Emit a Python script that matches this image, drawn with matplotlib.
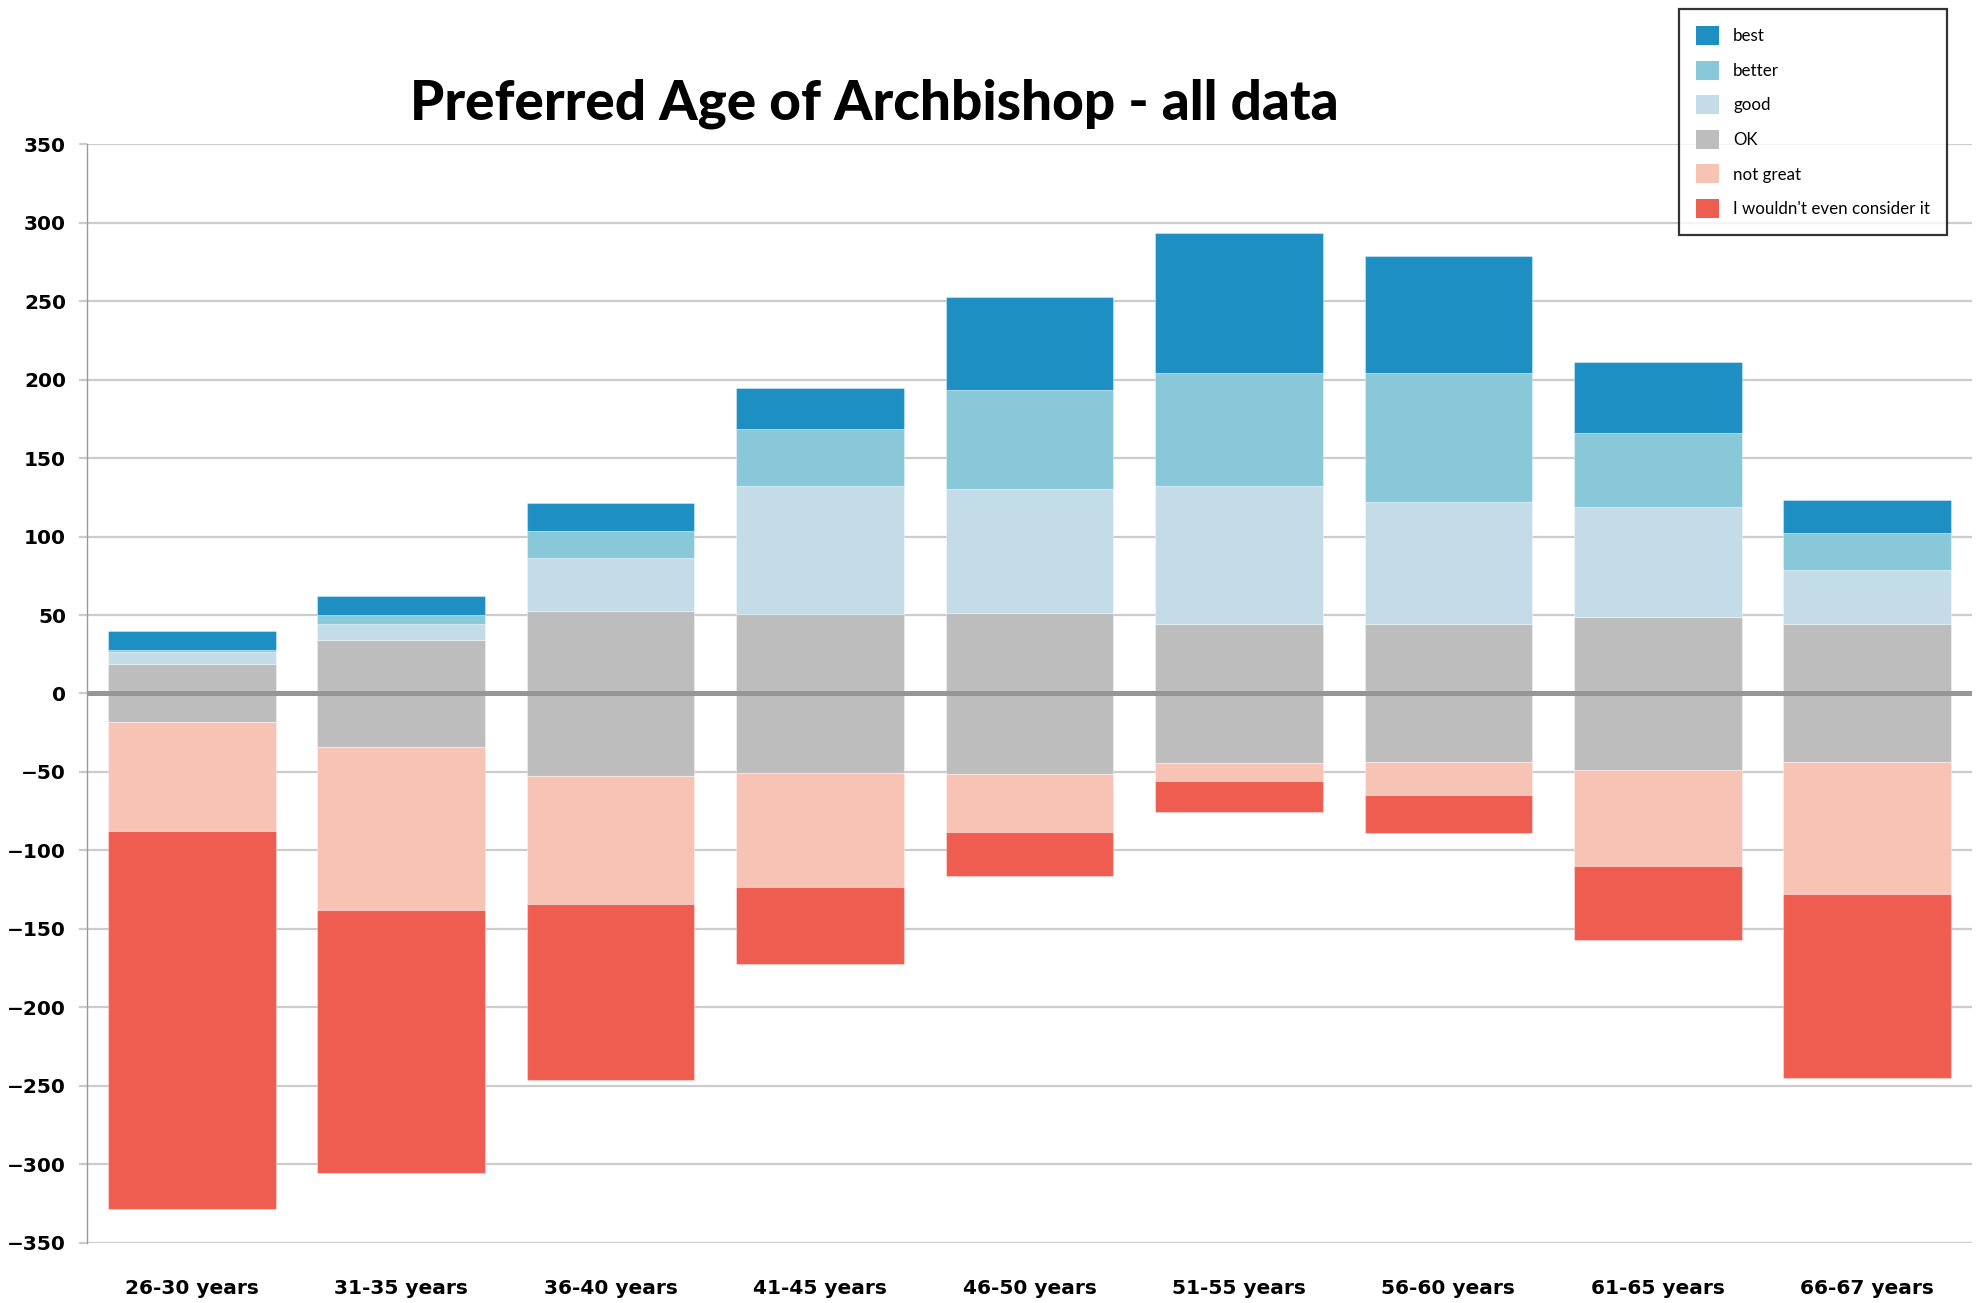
import numpy as np
import matplotlib.pyplot as plt
from matplotlib.patches import Patch

ages = ["26-30 years", "31-35 years", "36-40 years", "41-45 years", "46-50 years",
        "51-55 years", "56-60 years", "61-65 years", "66-67 years"]

# answer counts per age band
best = [12, 12, 18, 26, 59, 89, 75, 45, 21]
better = [1, 6, 17, 36, 63, 72, 82, 47, 23]
good = [8, 10, 34, 82, 79, 88, 78, 70, 35]
ok = [37, 68, 105, 101, 103, 89, 88, 98, 88]
not_great = [69, 104, 82, 73, 37, 11, 21, 61, 84]
wouldnt = [241, 168, 112, 49, 28, 20, 24, 47, 117]

labels = ["best", "better", "good", "OK", "not great", "I wouldn't even consider it"]
colors = ["#1d8fc2", "#88c8d9", "#c4dce7", "#bdbdbd", "#f6c3b5", "#ef5d51"]

plt.rcParams["font.family"] = ["Lato", "DejaVu Sans"]

fig = plt.figure(figsize=(19.86, 13.03), dpi=100)
ax = fig.add_axes([87 / 1986, 1 - 1242.5 / 1303, (1972 - 87) / 1986, (1242.5 - 144.4) / 1303])

x = np.arange(len(ages))
w = 0.8
half = np.array(ok) / 2.0
edge = dict(edgecolor=(1, 1, 1, 0.35), linewidth=0.8)

# positive side: half of OK, then good, better, best
ax.bar(x, half, w, color=colors[3], **edge, zorder=2)
bottom = half.copy()
for vals, c in [(good, colors[2]), (better, colors[1]), (best, colors[0])]:
    ax.bar(x, vals, w, bottom=bottom, color=c, **edge, zorder=2)
    bottom = bottom + np.array(vals)

# negative side: other half of OK, then not great, wouldn't
ax.bar(x, -half, w, color=colors[3], **edge, zorder=2)
bottom = -half.copy()
for vals, c in [(not_great, colors[4]), (wouldnt, colors[5])]:
    ax.bar(x, -np.array(vals), w, bottom=bottom, color=c, **edge, zorder=2)
    bottom = bottom - np.array(vals)

ax.axhline(0, color="#969696", lw=3.6, zorder=3)

ax.set_ylim(-350, 350)
ax.set_xlim(-0.5, 8.5)
ax.set_yticks(np.arange(-350, 351, 50))
ax.set_xticks(x)
ax.set_xticklabels(ages)
ax.yaxis.grid(True, color="#cccccc", lw=1.6, zorder=0)
ax.set_axisbelow(True)
for s in ["top", "right", "bottom"]:
    ax.spines[s].set_visible(False)
ax.spines["left"].set_color("#999999")
ax.spines["left"].set_linewidth(1.0)
ax.tick_params(axis="y", length=6, width=1.6, color="#cccccc", pad=9)
ax.tick_params(axis="x", length=0, pad=26)
for t in ax.get_xticklabels() + ax.get_yticklabels():
    t.set_fontweight("bold")
    t.set_fontfamily("DejaVu Sans")
    t.set_fontsize(14.5)

fig.text(874 / 1986, 1 - 104 / 1303, "Preferred Age of Archbishop - all data",
         ha="center", va="center", fontsize=39.5, fontweight="black")

handles = [Patch(facecolor=c, label=l) for c, l in zip(colors, labels)]
leg = fig.legend(handles=handles, loc="upper right",
                 bbox_to_anchor=(1947 / 1986, 1 - 9 / 1303), borderaxespad=0,
                 fontsize=12.2, frameon=True, fancybox=False, edgecolor="black",
                 handlelength=1.35, handleheight=1.35, labelspacing=0.92,
                 borderpad=1.0, handletextpad=0.85)
leg.get_frame().set_linewidth(1.6)

fig.savefig("out.png", dpi=100)
